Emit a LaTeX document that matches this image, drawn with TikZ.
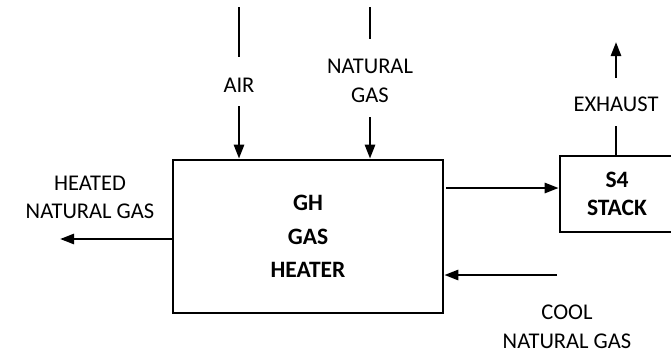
\documentclass[tikz,border=0pt]{standalone}
\usepackage{fontspec}
\setmainfont{Carlito}
\usetikzlibrary{arrows.meta,calc}

\begin{document}
\begin{tikzpicture}[x=1pt,y=-1pt,
  line width=2.6pt,
  flow/.style={-{Triangle[length=14pt,width=10pt]}},
  unitbox/.style={draw,align=center,inner sep=0pt,
    font=\fontsize{23.5}{33.5}\selectfont\bfseries},
  stream/.style={align=center,inner sep=0pt,
    font=\fontsize{22.5}{28.5}\selectfont}]

% Frame
\useasboundingbox (0,0) rectangle (671,357);
\clip (0,0) rectangle (671,357);

% Units
\node[unitbox,minimum width=270,minimum height=153] (gh) at (308,236.5)
  {GH\\GAS\\HEATER};
\node[unitbox,minimum width=114,minimum height=76,
  font=\fontsize{23.5}{28}\selectfont\bfseries] (stack) at (617,194)
  {S4\\STACK};

% Stream labels
\node[stream] (air) at (239,85) {AIR};
\node[stream] (ngas) at (370,81) {NATURAL\\GAS};
\node[stream] (exhaust) at (616,104) {EXHAUST};
\node[stream] (heated) at (90,197.5) {HEATED\\NATURAL GAS};
\node[stream] (cool) at (567,327) {COOL\\NATURAL GAS};

% Line ends
\coordinate (air0) at (239,7);
\coordinate (air1) at (239,57);
\coordinate (air2) at (239,106);
\coordinate (ng0) at (370,7);
\coordinate (ng1) at (370,39);
\coordinate (ng2) at (370,117);
\coordinate (ex1) at (616,126);
\coordinate (ex2) at (616,78);
\coordinate (ex3) at (616,42);
\coordinate (out0) at (446,188);
\coordinate (hot1) at (60,239);
\coordinate (cool0) at (557,275);

% Air in
\draw (air0) -- (air1);
\draw[flow] (air2) -- (air2 |- gh.north);

% Natural gas in
\draw (ng0) -- (ng1);
\draw[flow] (ng2) -- (ng2 |- gh.north);

% Flue gas to stack
\draw[flow] (out0) -- (out0 -| stack.west);

% Exhaust
\draw (ex1 |- stack.north) -- (ex1);
\draw[flow] (ex2) -- (ex3);

% Heated natural gas out
\draw[flow] (hot1 -| gh.west) -- (hot1);

% Cool natural gas in
\draw[flow] (cool0) -- (cool0 -| gh.east);

\end{tikzpicture}
\end{document}
